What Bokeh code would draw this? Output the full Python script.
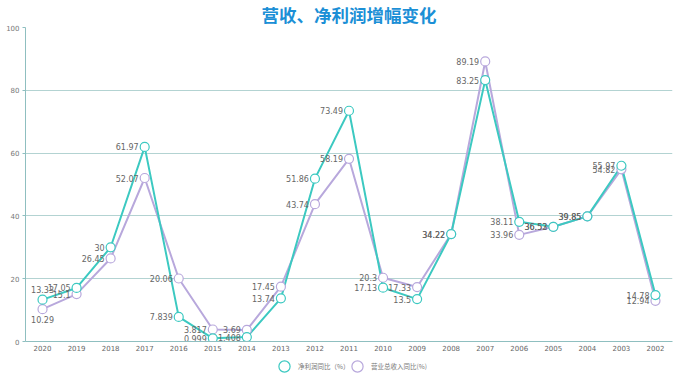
from bokeh.plotting import figure
from bokeh.layouts import column
from bokeh.models import Range1d, FactorRange, ColumnDataSource, Legend, LegendItem, SingleIntervalTicker
from bokeh.core.properties import value
from bokeh.embed import file_html
from bokeh.resources import INLINE

years = ["2020", "2019", "2018", "2017", "2016", "2015", "2014", "2013", "2012", "2011",
         "2010", "2009", "2008", "2007", "2006", "2005", "2004", "2003", "2002"]
net_profit = [13.33, 17.05, 30, 61.97, 7.839, 0.999, 1.408, 13.74, 51.86, 73.49,
              17.13, 13.5, 34.22, 83.25, 38.11, 36.52, 39.85, 55.97, 14.78]
revenue = [10.29, 15.1, 26.45, 52.07, 20.06, 3.817, 3.69, 17.45, 43.74, 58.19,
           20.3, 17.33, 34.22, 89.19, 33.96, 36.53, 39.85, 54.82, 12.94]
series_names = ["净利润同比（%）", "营业总收入同比(%)"]
title_text = "营收、净利润增幅变化"

TEAL = "#3cc9c1"
PURPLE = "#b8a8dc"
CJK = "Noto Sans CJK SC"

p = figure(x_range=FactorRange(*years), y_range=Range1d(0, 100),
           width=700, height=354, output_backend="svg", toolbar_location=None,
           min_border_left=25, min_border_right=28, min_border_top=27, min_border_bottom=13)
p.outline_line_color = None
p.background_fill_color = "white"

# title
p.title.text = title_text
p.title.align = "center"
p.title.vertical_align = "middle"
p.title.text_font = CJK
p.title.text_font_size = "17.5px"
p.title.text_font_style = "bold"
p.title.text_color = "#1b8fd6"
p.title.text_line_height = 1.0
p.title.standoff = 0
p.title.offset = 0

# axes
p.yaxis.ticker = SingleIntervalTicker(interval=20)
p.yaxis.minor_tick_line_color = None
p.yaxis.major_tick_out = 3
p.yaxis.major_tick_in = 0
p.yaxis.major_label_standoff = 2
p.yaxis.axis_line_color = "#8fbfc0"
p.yaxis.major_tick_line_color = "#8fbfc0"
p.yaxis.major_label_text_font_size = "7px"
p.yaxis.major_label_text_color = "#777777"
p.yaxis.major_label_text_font = "DejaVu Sans"

p.xaxis.axis_line_color = "#8fbfc0"
p.xaxis.major_tick_line_color = None
p.xaxis.major_tick_out = 0
p.xaxis.major_tick_in = 0
p.xaxis.major_label_text_font_size = "7px"
p.xaxis.major_label_text_color = "#666666"
p.xaxis.major_label_standoff = 3
p.xaxis.major_label_text_font = "DejaVu Sans"

p.xgrid.grid_line_color = None
p.ygrid.grid_line_color = "#b3d3d2"
p.ygrid.grid_line_width = 1.2

# label placement: left of each point; the first category (at the frame edge) is stacked above/below
n = len(years)
np_align = ["center"] + ["right"] * (n - 1)
rv_align = ["center"] + ["right"] * (n - 1)
np_xoff = [0] + [-6] * (n - 1)
rv_xoff = [0] + [-6] * (n - 1)
np_yoff = [-10] + [0] * (n - 1)
rv_yoff = [10] + [0] * (n - 1)

src = ColumnDataSource(dict(
    x=years,
    np_=net_profit,
    rv=revenue,
    np_lab=[f"{v:g}" for v in net_profit],
    rv_lab=[f"{v:g}" for v in revenue],
    np_align=np_align, rv_align=rv_align,
    np_xoff=np_xoff, rv_xoff=rv_xoff,
    np_yoff=np_yoff, rv_yoff=rv_yoff,
))

p.line("x", "rv", source=src, line_color=PURPLE, line_width=2)
p.line("x", "np_", source=src, line_color=TEAL, line_width=2)
p.scatter("x", "rv", source=src, size=9, fill_color="white", line_color=PURPLE, line_width=1.2)
p.scatter("x", "np_", source=src, size=9, fill_color="white", line_color=TEAL, line_width=1.2)

p.text("x", "rv", text="rv_lab", source=src, x_offset="rv_xoff", y_offset="rv_yoff",
       text_align="rv_align", text_baseline="middle", text_font_size="8px",
       text_color="#666666", text_font=value("DejaVu Sans"))
p.text("x", "np_", text="np_lab", source=src, x_offset="np_xoff", y_offset="np_yoff",
       text_align="np_align", text_baseline="middle", text_font_size="8px",
       text_color="#666666", text_font=value("DejaVu Sans"))

# legend strip underneath the chart (its markers fall outside its view; only the swatches show)
lg = figure(width=700, height=28, output_backend="svg", toolbar_location=None,
            x_axis_type=None, y_axis_type=None, x_range=FactorRange(*years),
            y_range=Range1d(-1000, -999), min_border=0)
lg.outline_line_color = None
lg.xgrid.grid_line_color = None
lg.ygrid.grid_line_color = None
d_np = lg.scatter("x", "np_", source=src, size=0, fill_color="white", line_color=TEAL, line_width=1.2)
d_rv = lg.scatter("x", "rv", source=src, size=0, fill_color="white", line_color=PURPLE, line_width=1.2)

legend_style = dict(orientation="horizontal", glyph_width=28, glyph_height=28, label_standoff=-3,
                    padding=0, margin=0, border_line_color=None, background_fill_alpha=0,
                    label_text_font=CJK, label_text_font_size="6.5px", label_text_color="#777777")
leg1 = Legend(items=[LegendItem(label=series_names[0], renderers=[d_np])], location=(245, 2), **legend_style)
leg2 = Legend(items=[LegendItem(label=series_names[1], renderers=[d_rv])], location=(318, 2), **legend_style)
lg.add_layout(leg1, "center")
lg.add_layout(leg2, "center")

layout = column(p, lg, spacing=0)
open("out.html", "w").write(file_html(layout, INLINE))
